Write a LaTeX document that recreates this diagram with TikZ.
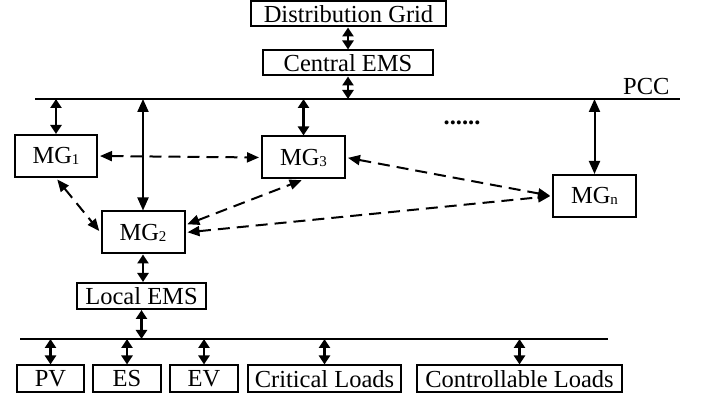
\documentclass[tikz,border=0pt]{standalone}
\usepackage{fontspec}
\setmainfont{Liberation Serif}
\usetikzlibrary{arrows.meta}

\newcommand{\mgsub}[1]{\raisebox{-1pt}{\fontsize{15}{15}\selectfont #1}}

\begin{document}
\begin{tikzpicture}[x=1pt, y=-1pt,
	every node/.style={font=\fontsize{24.5}{26}\selectfont},
	box/.style={draw, line width=2pt, inner sep=0pt, minimum height=25pt},
	mgbox/.style={box, minimum width=83pt, minimum height=42pt},
	bus/.style={line width=2.5pt},
	link/.style={line width=2.5pt, {Triangle[length=9pt,width=11pt]}-{Triangle[length=9pt,width=11pt]}},
	feeder/.style={line width=2pt, {Triangle[length=13pt,width=11pt]}-{Triangle[length=13pt,width=11pt]}},
	comm/.style={line width=2pt, dash pattern=on 12pt off 7pt, shorten <=2pt, shorten >=2pt,
		{Triangle[length=12pt,width=10pt]}-{Triangle[length=12pt,width=10pt]}}]
	\useasboundingbox (0,0) rectangle (702,403);

	\node[box, minimum width=195pt] (grid) at (348.5,14) {Distribution Grid};
	\node[box, minimum width=170pt] (cems) at (348,63) {Central EMS};

	\coordinate (pccL) at (35,99);
	\coordinate (pccR) at (680,99);
	\draw[bus] (pccL) -- (pccR);
	\node[anchor=base east] (pcc) at (673,95) {PCC};

	\node[mgbox, minimum width=82pt] (mg1) at (56,156) {MG\mgsub{1}};
	\node[mgbox] (mg2) at (143,232.5) {MG\mgsub{2}};
	\node[mgbox] (mg3) at (303.5,157.5) {MG\mgsub{3}};
	\node[mgbox] (mgn) at (594.5,196) {MG\mgsub{n}};
	\node (dots) at (462,123) {\textbf{......}};

	\node[box, minimum width=129pt, minimum height=26pt] (lems) at (141.5,296) {Local EMS};

	\coordinate (busL) at (20,339);
	\coordinate (busR) at (608,339);
	\draw[bus] (busL) -- (busR);

	\foreach \name/\x/\w/\txt in {pv/50.5/67/PV, es/127/68/ES, ev/204/68/EV,
		crit/324.5/153/Critical Loads, ctrl/519.5/205/Controllable Loads} {
		\node[box, minimum width=\w pt, minimum height=27pt] (\name) at (\x,379) {\txt};
		\draw[link] (\name.north) -- (\name.north |- busL);
	}

	\draw[link] (cems.north) -- (cems.north |- grid.south);
	\draw[link] (cems.south) -- (cems.south |- pccL);
	\draw[link] (mg1.north) -- (mg1.north |- pccL);
	\draw[link] (mg3.north) -- (mg3.north |- pccL);
	\draw[feeder] (mg2.north) -- (mg2.north |- pccL);
	\draw[feeder] (mgn.north) -- (mgn.north |- pccL);
	\draw[link] (mg2.south) -- (mg2.south |- lems.north);
	\draw[link] (lems.south) -- (lems.south |- busL);

	\draw[comm] (mg1.east) -- (mg3.west);
	\draw[comm] (mg1.south) -- (mg2.west);
	\draw[comm] (mg2.10) -- (mg3.south);
	\draw[comm] (mg3.east) -- (mgn.west);
	\draw[comm] (mg2.east) -- (mgn.west);
\end{tikzpicture}
\end{document}
